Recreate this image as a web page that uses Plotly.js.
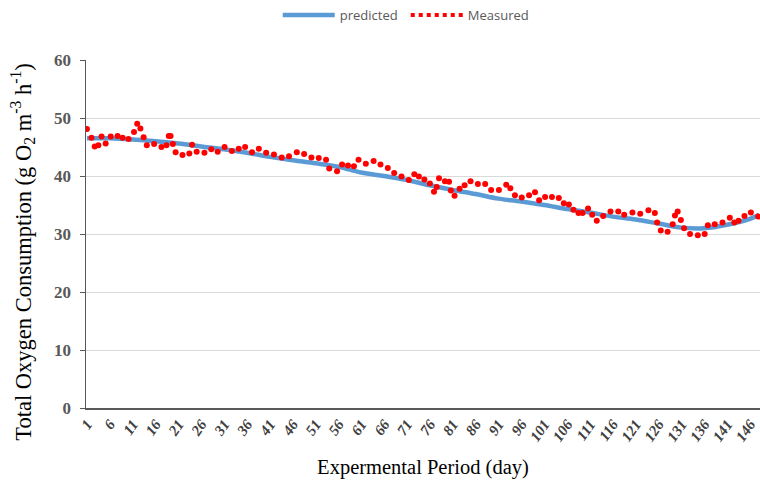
<!DOCTYPE html>
<html>
<head>
<meta charset="utf-8">
<script src="https://cdn.plot.ly/plotly-3.0.1.min.js"></script>
<style>html,body{margin:0;padding:0;background:#fff;}#chart{width:760px;height:493px;}</style>
</head>
<body>
<div id="chart"></div>
<script>
// Predicted model curve (sampled days)
const predDays = [1, 6, 11, 16, 21, 26, 31, 36, 41, 46, 51, 56, 61, 66, 71, 76, 81, 86, 91, 96, 101, 106, 111, 116, 121, 126, 131, 136, 141, 146, 148];
const predValues = [46.5, 46.5, 46.3, 46.0, 45.6, 45.1, 44.6, 44.0, 43.3, 42.7, 42.2, 41.6, 40.6, 40.0, 39.3, 38.4, 37.6, 36.9, 36.1, 35.6, 35.0, 34.3, 33.7, 33.0, 32.5, 31.8, 31.1, 31.0, 31.6, 32.6, 33.3];

// Measured points
const measDays = [1, 2.0, 2.7, 3.5, 4.2, 5.1, 6.2, 7.7, 8.8, 10.1, 11.3, 12.0, 12.7, 13.4, 14.1, 15.7, 17.3, 18.4, 18.9, 19.3, 19.8, 20.4, 21.9, 23.4, 24.0, 25.0, 26.7, 28.2, 29.6, 31.1, 32.7, 34.2, 35.6, 37.1, 38.6,
  40.2, 41.9, 43.6, 45.2, 46.9, 48.5, 50.1, 51.7, 53.3, 54.0, 55.7, 56.8, 58.1, 59.4, 60.4, 62.0, 63.7, 65.2, 66.8, 68.2, 69.8, 71.4, 72.6, 73.6, 74.8, 76.0,
  76.9, 77.5, 78.0, 79.3, 80.2, 80.6, 81.4, 82.5, 83.6, 84.9, 86.5, 88.1, 89.4, 91.1, 92.7, 93.6, 94.6, 96.1, 97.7, 99.0, 99.9, 101.2, 102.7, 104.2, 105.3, 106.4, 107.4, 108.5, 109.4, 110.6, 111.5, 112.5,
  113.9, 115.5, 117.2, 118.5, 120.3, 122.0, 123.8, 125.2, 125.7, 126.5, 128.0, 129.1, 129.6, 130.2, 130.9, 131.6, 132.9, 134.6, 136.1, 136.8, 138.3, 140.0, 141.6, 142.6, 143.5, 144.8, 146.2, 147.8];
const measValues = [48.1, 46.6, 45.1, 45.3, 46.8, 45.6, 46.8, 46.9, 46.6, 46.4, 47.6, 49.0, 48.2, 46.7, 45.3, 45.5, 45.0, 45.3, 46.9, 46.9, 45.5, 44.1, 43.6, 43.9, 45.4, 44.2, 44.0, 44.6, 44.2, 45.0, 44.3, 44.7, 45.0, 44.1, 44.7,
  44.0, 43.7, 43.2, 43.4, 44.1, 43.8, 43.2, 43.1, 42.8, 41.3, 40.8, 42.0, 41.8, 41.7, 42.8, 42.1, 42.6, 42.0, 41.4, 40.5, 39.9, 39.3, 40.3, 39.9, 39.4, 38.7,
  37.3, 38.1, 39.6, 39.1, 39.0, 37.5, 36.6, 37.8, 38.4, 39.1, 38.6, 38.6, 37.6, 37.6, 38.5, 37.9, 36.7, 36.3, 36.7, 37.2, 35.8, 36.4, 36.4, 36.2, 35.3, 35.1, 34.2, 33.6, 33.6, 34.4, 33.3, 32.3,
  33.1, 33.9, 33.9, 33.3, 33.7, 33.5, 34.1, 33.6, 32.0, 30.6, 30.4, 31.7, 33.2, 33.9, 32.4, 31.0, 30.0, 29.8, 30.0, 31.5, 31.7, 32.0, 32.8, 32.0, 32.3, 33.1, 33.7, 33.0];

const tickDays = [1, 6, 11, 16, 21, 26, 31, 36, 41, 46, 51, 56, 61, 66, 71, 76, 81, 86, 91, 96, 101, 106, 111, 116, 121, 126, 131, 136, 141, 146];
const tickLabels = tickDays.map(String);

const traces = [
  {
    x: predDays, y: predValues, type: 'scatter', mode: 'lines', name: 'predicted',
    line: {color: '#5B9BD5', width: 4.5, shape: 'spline', smoothing: 1}
  },
  {
    x: measDays, y: measValues, type: 'scatter', mode: 'markers', name: 'Measured',
    marker: {color: '#FF0000', size: 6}, showlegend: false
  },
  {
    // legend-only entry: dotted red line key, no data drawn
    x: [null], y: [null], type: 'scatter', mode: 'lines', name: 'Measured',
    line: {color: '#FF0000', width: 4, dash: '4px,4px'}
  }
];

const serif = '"Liberation Serif", "Times New Roman", serif';
const layout = {
  width: 760, height: 493,
  margin: {l: 86, r: 0, t: 54, b: 85},
  paper_bgcolor: '#fff', plot_bgcolor: '#fff',
  showlegend: true,
  legend: {
    orientation: 'h', x: 0.2845, xanchor: 'left', y: 1.13, yanchor: 'middle',
    font: {family: '"Open Sans", "Liberation Sans", sans-serif', size: 13, color: '#595959'},
    itemwidth: 52,
    entrywidth: 61, entrywidthmode: 'pixels'
  },
  xaxis: {
    range: [0.8, 148.2],
    tickmode: 'array', tickvals: tickDays, ticktext: tickLabels,
    tickangle: -55,
    tickfont: {family: serif, size: 15, color: '#404040', weight: 'bold', style: 'italic'},
    showgrid: false, zeroline: false,
    showline: true, linecolor: '#595959', linewidth: 1.5,
    ticks: '',
    title: {text: 'Expermental Period (day)', font: {family: serif, size: 20.5, color: '#000'}, standoff: 16}
  },
  yaxis: {
    range: [0, 60], tickvals: [0, 10, 20, 30, 40, 50, 60],
    tickfont: {family: serif, size: 17, color: '#595959', weight: 'bold'},
    ticklabelstandoff: 5,
    showgrid: true, gridcolor: '#D9D9D9', gridwidth: 1,
    zeroline: false,
    showline: true, linecolor: '#595959', linewidth: 1.5,
    ticks: 'outside', ticklen: 5, tickcolor: '#595959'
  },
  annotations: [{
    text: 'Total Oxygen Consumption (g O<sub>2</sub> m<sup>-3</sup> h<sup>-1</sup>)',
    textangle: -90, showarrow: false,
    xref: 'paper', yref: 'paper', x: -0.0935, y: 0.449,
    xanchor: 'center', yanchor: 'middle',
    font: {family: serif, size: 22.5, color: '#000'}
  }]
};

Plotly.newPlot('chart', traces, layout, {displayModeBar: false, staticPlot: true});
</script>
</body>
</html>
